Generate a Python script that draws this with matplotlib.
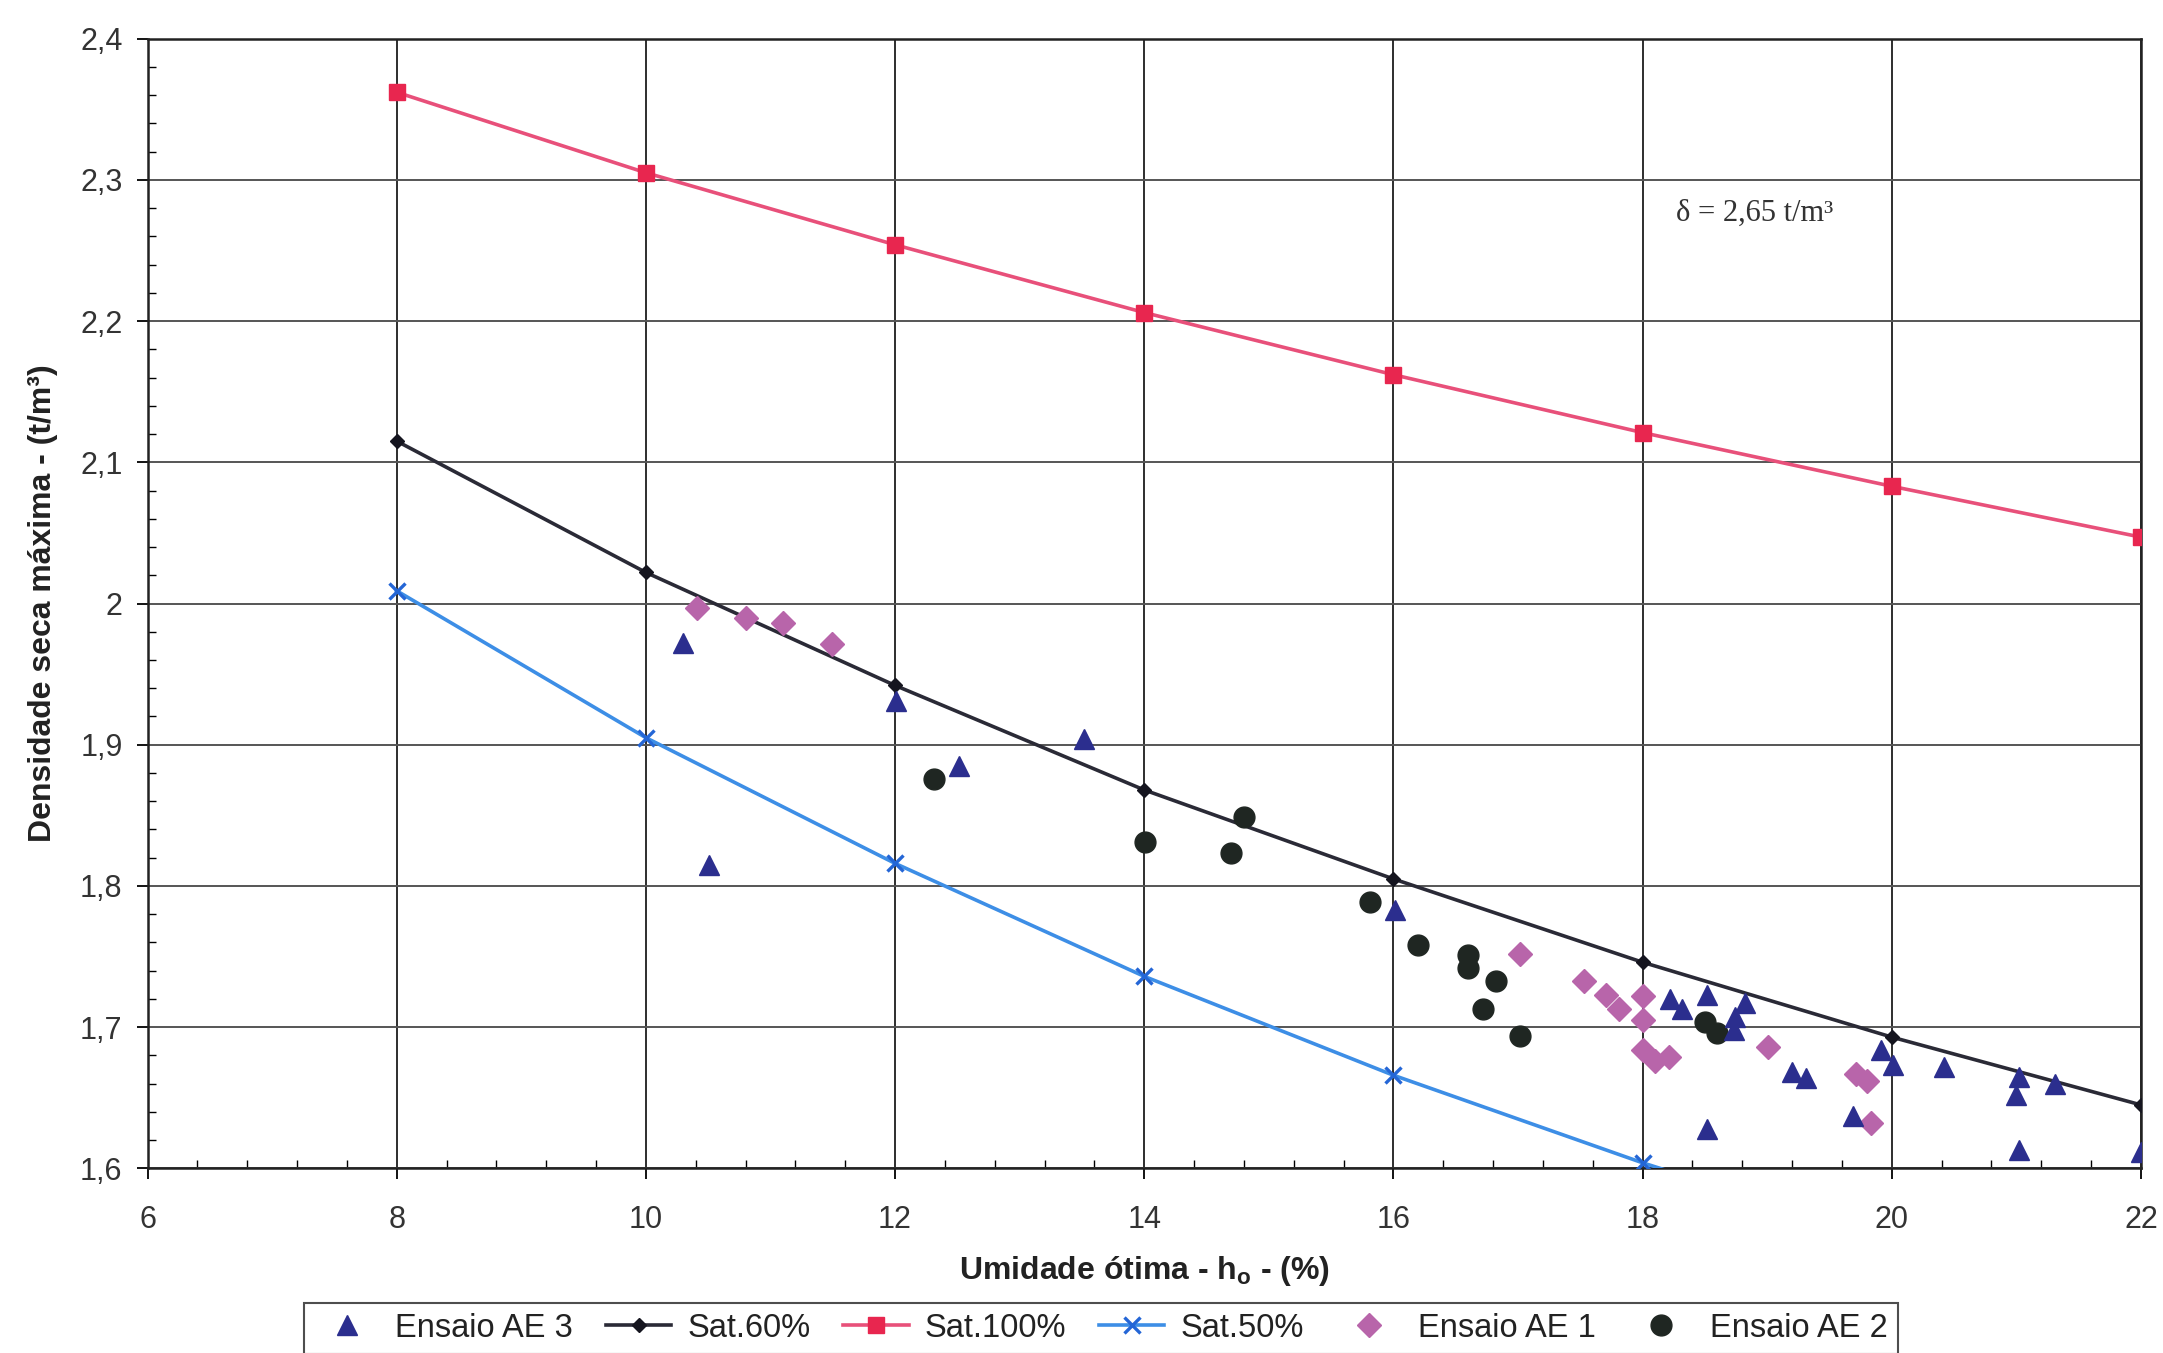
import matplotlib
matplotlib.use("Agg")
import matplotlib.pyplot as plt
from matplotlib.ticker import MultipleLocator, FuncFormatter
from matplotlib.lines import Line2D

plt.rcParams['font.family'] = ['Liberation Sans', 'DejaVu Sans']
plt.rcParams['mathtext.fontset'] = 'custom'
plt.rcParams['mathtext.rm'] = 'Liberation Sans'
plt.rcParams['mathtext.bf'] = 'Liberation Sans:bold'

# saturation curves (moisture %, dry density t/m3)
sat_x = [8, 10, 12, 14, 16, 18, 20, 22]
sat100_y = [2.362, 2.305, 2.254, 2.206, 2.162, 2.121, 2.083, 2.047]
sat60_y = [2.115, 2.022, 1.942, 1.868, 1.805, 1.746, 1.693, 1.645]
sat50_x = [8, 10, 12, 14, 16, 18, 20]
sat50_y = [2.009, 1.905, 1.816, 1.736, 1.666, 1.604, 1.548]

# test results
ae3_x = [10.30, 10.51, 12.01, 12.51, 13.52, 16.01, 18.22, 18.32, 18.52, 18.82,
         18.74, 18.73, 18.52, 19.20, 19.31, 19.69, 19.91, 20.01, 20.42, 21.02,
         21.00, 21.31, 21.02, 22.0]
ae3_y = [1.972, 1.815, 1.931, 1.885, 1.904, 1.783, 1.720, 1.713, 1.723, 1.717,
         1.707, 1.698, 1.628, 1.668, 1.664, 1.637, 1.684, 1.673, 1.672, 1.665,
         1.652, 1.660, 1.613, 1.612]

ae1_x = [10.41, 10.80, 11.10, 11.49, 17.02, 17.53, 17.71, 17.81, 18.0, 18.0,
         18.0, 18.10, 18.21, 19.01, 19.71, 19.80, 19.83]
ae1_y = [1.997, 1.990, 1.986, 1.971, 1.752, 1.733, 1.723, 1.713, 1.722, 1.705,
         1.684, 1.676, 1.679, 1.686, 1.667, 1.662, 1.632]

ae2_x = [12.31, 14.01, 14.70, 14.80, 15.81, 16.20, 16.60, 16.60, 16.82, 16.72,
         17.02, 18.50, 18.60]
ae2_y = [1.876, 1.831, 1.823, 1.849, 1.789, 1.758, 1.751, 1.742, 1.733, 1.713,
         1.694, 1.704, 1.696]


fig = plt.figure(figsize=(21.63, 13.53), dpi=100)
ax = fig.add_axes([0.0682, 0.1364, 0.9216, 0.8351])

ax.grid(True, which='major', axis='x', color='#2e2e2e', linewidth=1.4, zorder=0)
ax.grid(True, which='major', axis='y', color='#555555', linewidth=1.4, zorder=0)

ax.plot(sat_x, sat100_y, color='#e8507a', lw=2.6, marker='s', ms=11,
        mfc='#e8264f', mec='#e8264f', zorder=3)
ax.plot(sat_x, sat60_y, color='#2a2a36', lw=2.6, marker='D', ms=7,
        mfc='#15151f', mec='#15151f', zorder=3)
ax.plot(sat50_x, sat50_y, color='#3d8ee6', lw=2.6, marker='x', ms=11,
        mew=2.4, mec='#2466d6', zorder=3)

ax.plot(ae1_x, ae1_y, ls='none', marker='D', ms=12, mfc='#b865aa',
        mec='#b865aa', zorder=4)
ax.plot(ae2_x, ae2_y, ls='none', marker='o', ms=15, mfc='#1f2622',
        mec='#1f2622', zorder=4)
ax.plot(ae3_x, ae3_y, ls='none', marker='^', ms=15, mfc='#2b2e8e',
        mec='#2b2e8e', zorder=5)

ax.set_xlim(6, 22)
ax.set_ylim(1.6, 2.4)
ax.xaxis.set_major_locator(MultipleLocator(2))
ax.xaxis.set_minor_locator(MultipleLocator(0.4))
ax.yaxis.set_major_locator(MultipleLocator(0.1))
ax.yaxis.set_minor_locator(MultipleLocator(0.02))

fmt = FuncFormatter(lambda v, p: ('%g' % round(v, 2)).replace('.', ','))
ax.xaxis.set_major_formatter(fmt)
ax.yaxis.set_major_formatter(fmt)

ax.tick_params(which='major', direction='out', length=8, width=1.3,
               labelsize=22, labelcolor='#333333')
ax.tick_params(axis='x', which='major', pad=18)
ax.tick_params(axis='y', which='major', pad=10)
ax.tick_params(which='minor', direction='in', length=6, width=1.0)
for s in ax.spines.values():
    s.set_linewidth(1.8)
    s.set_color('#222222')

ax.set_xlabel(r'Umidade ótima - h$_\mathbf{o}$ - (%)', fontsize=23,
              fontweight='bold', color='#222222', labelpad=14)
ax.set_ylabel('Densidade seca máxima - (t/m³)', fontsize=23,
              fontweight='bold', color='#222222', labelpad=16)

ax.text(18.9, 2.276, 'δ = 2,65 t/m³', fontsize=22, family='Liberation Serif',
        ha='center', va='center', color='#333333')

handles = [
    Line2D([], [], ls='none', marker='^', ms=15, mfc='#2b2e8e', mec='#2b2e8e'),
    Line2D([], [], color='#2a2a36', lw=2.6, marker='D', ms=7, mfc='#15151f', mec='#15151f'),
    Line2D([], [], color='#e8507a', lw=2.6, marker='s', ms=11, mfc='#e8264f', mec='#e8264f'),
    Line2D([], [], color='#3d8ee6', lw=2.6, marker='x', ms=11, mew=2.4, mec='#2466d6'),
    Line2D([], [], ls='none', marker='D', ms=12, mfc='#b865aa', mec='#b865aa'),
    Line2D([], [], ls='none', marker='o', ms=15, mfc='#1f2622', mec='#1f2622'),
]
labels = ['Ensaio AE 3', 'Sat.60%', 'Sat.100%', 'Sat.50%', 'Ensaio AE 1', 'Ensaio AE 2']
leg = fig.legend(handles, labels, loc='upper center', bbox_to_anchor=(0.509, 0.037),
                 ncol=6, fontsize=23.5, frameon=True, fancybox=False,
                 edgecolor='#222222', handlelength=2.0, handletextpad=0.5,
                 columnspacing=1.0, borderpad=0.3, borderaxespad=0)
leg.get_frame().set_linewidth(1.5)
for t in leg.get_texts():
    t.set_color('#222222')

fig.savefig('out.png', dpi=100)
